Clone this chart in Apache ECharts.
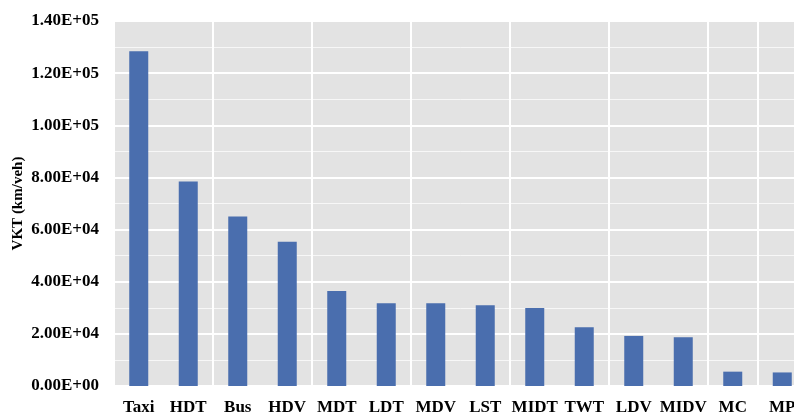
<!DOCTYPE html>
<html>
<head>
<meta charset="utf-8">
<script src="https://cdn.jsdelivr.net/npm/echarts@6/dist/echarts.min.js"></script>
<style>
  html, body { margin: 0; padding: 0; background: #ffffff; overflow: hidden; width: 794px; height: 414px; }
  #chart { width: 820px; height: 414px; }
</style>
</head>
<body>
<div id="chart"></div>
<script>
// Vehicle kilometres travelled per vehicle, by vehicle type
const categories = ['Taxi', 'HDT', 'Bus', 'HDV', 'MDT', 'LDT', 'MDV', 'LST', 'MIDT', 'TWT', 'LDV', 'MIDV', 'MC', 'MP'];
const vktValues = [128400, 78400, 65000, 55300, 36400, 31700, 31700, 31000, 29900, 22500, 19200, 18700, 5500, 5200];
const yTicks = { min: 0, max: 140000, interval: 20000 };

// Excel-style scientific notation: 1.40E+05
function sci(v) {
  if (v === 0) return '0.00E+00';
  const exp = Math.floor(Math.log10(Math.abs(v)));
  const mant = v / Math.pow(10, exp);
  const sign = exp < 0 ? '-' : '+';
  const e = String(Math.abs(exp)).padStart(2, '0');
  return mant.toFixed(2) + 'E' + sign + e;
}

const font = '"Liberation Serif", "Times New Roman", serif';
const chart = echarts.init(document.getElementById('chart'), null, { renderer: 'canvas' });

chart.setOption({
  animation: false,
  backgroundColor: '#ffffff',
  grid: {
    left: 114, right: 13, top: 21, bottom: 28,
    containLabel: false,
    outerBoundsMode: 'none',
    show: true, backgroundColor: '#e3e3e3', borderWidth: 0
  },
  xAxis: {
    type: 'category',
    data: categories,
    boundaryGap: true,
    axisLine: { show: false },
    axisTick: { show: false },
    axisLabel: {
      interval: 0, margin: 13,
      fontFamily: font, fontWeight: 'bold', fontSize: 17, color: '#000000'
    },
    splitLine: { show: true, interval: 1, lineStyle: { color: '#ffffff', width: 2 } }
  },
  yAxis: {
    type: 'value',
    min: yTicks.min, max: yTicks.max, interval: yTicks.interval,
    name: 'VKT (km/veh)',
    nameLocation: 'middle',
    nameGap: 88,
    nameRotate: 90,
    nameMoveOverlap: false,
    nameTextStyle: { fontFamily: font, fontWeight: 'bold', fontSize: 15, color: '#000000' },
    axisLine: { show: false },
    axisTick: { show: false },
    axisLabel: {
      margin: 15,
      fontFamily: font, fontWeight: 'bold', fontSize: 17, color: '#000000',
      formatter: sci
    },
    splitLine: { show: true, lineStyle: { color: '#ffffff', width: 2 } },
    minorTick: { show: false, splitNumber: 2 },
    minorSplitLine: { show: true, lineStyle: { color: 'rgba(255,255,255,0.7)', width: 1 } }
  },
  series: [{
    type: 'bar',
    data: vktValues,
    barWidth: 19,
    itemStyle: { color: '#4a6eae' }
  }]
});
</script>
</body>
</html>
